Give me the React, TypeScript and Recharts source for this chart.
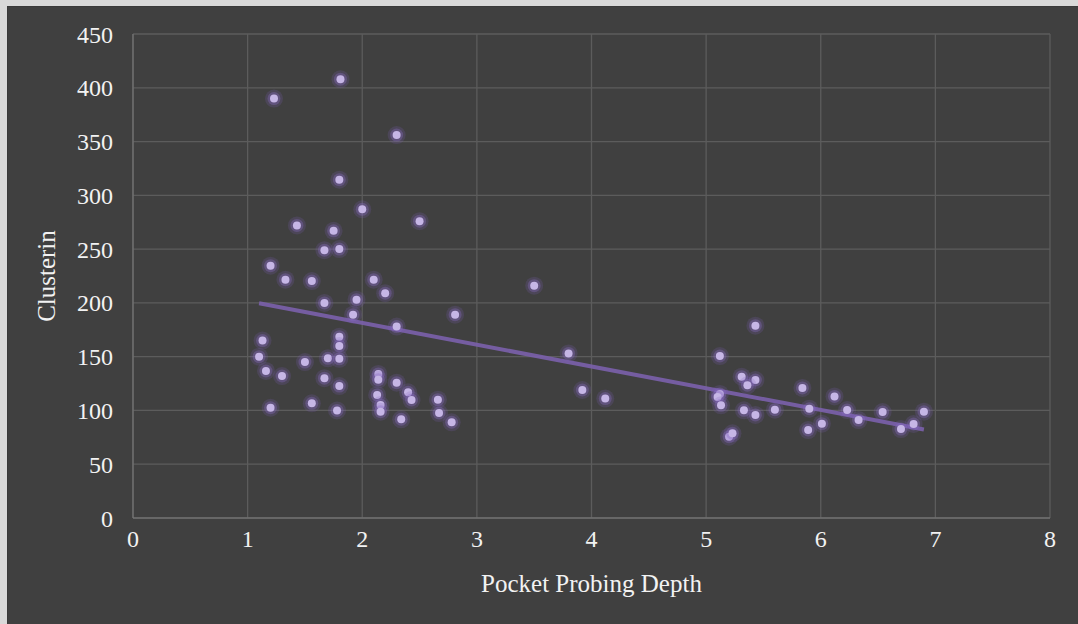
import React from 'react';
import { ScatterChart, Scatter, XAxis, YAxis, CartesianGrid } from 'recharts';

const depthValues = [
  1.81, 1.23, 2.30, 1.80, 2.00, 1.43, 2.50, 1.75, 1.67, 1.80, 1.20,
  1.33, 1.56, 2.10, 2.20, 1.67, 1.95, 1.92, 2.81, 2.30, 1.13, 1.80, 1.80,
  1.10, 1.50, 1.70, 1.80, 1.16, 1.30, 1.67, 1.80, 2.14, 2.14, 2.30, 2.40,
  2.43, 2.13, 2.16, 2.16, 2.66, 2.67, 2.78, 2.34, 1.20, 1.56, 1.78,
  3.50, 3.80, 3.92, 4.12,
  5.43, 5.12, 5.31, 5.43, 5.36, 5.84, 5.12, 5.10, 5.13, 5.33, 5.43, 5.60,
  5.90, 6.12, 6.23, 6.33, 6.54, 6.01, 5.89, 5.20, 5.23, 6.70, 6.81, 6.90,
];
const clusterinValues = [
  408, 390, 356, 314.5, 287, 272, 276, 267, 249, 250, 234.6,
  221.6, 220.3, 221.6, 209, 200, 203, 189, 189, 178, 165, 168.6, 160,
  150, 145, 148.5, 148, 136.7, 132, 130, 122.7, 134, 128.6, 125.8, 116.9,
  109.7, 114.4, 105, 98.8, 110, 97.6, 89, 91.8, 102.5, 106.6, 100,
  216, 153, 119, 111,
  178.8, 150.6, 131.4, 128.3, 123.4, 120.9, 115.3, 112.5, 104.8, 100.1, 95.8, 100.7,
  101.6, 113, 100.4, 91, 98.5, 87.7, 81.8, 75.6, 78.7, 82.7, 87.4, 98.8,
];
const trendX = [1.1, 6.9];
const trendY = [199.6, 82.2];
const xTicks = [0, 1, 2, 3, 4, 5, 6, 7, 8];
const yTicks = [0, 50, 100, 150, 200, 250, 300, 350, 400, 450];

const points = depthValues.map((x, i) => ({ x, y: clusterinValues[i] }));
const trend = trendX.map((x, i) => ({ x, y: trendY[i] }));

const FONT = '"Liberation Serif", "Times New Roman", serif';
const TEXT = '#f2f2f2';
const FS = 24;

const Dot = (props: any) => {
  const { cx, cy } = props;
  if (cx == null || cy == null) return <g />;
  return (
    <g>
      <circle cx={cx} cy={cy} r={9} fill="#7e5fb8" fillOpacity={0.2} />
      <circle cx={cx} cy={cy} r={6.5} fill="#8a6cc4" fillOpacity={0.35} />
      <circle cx={cx} cy={cy} r={4} fill="#c6b6e6" />
    </g>
  );
};

export default function App() {
  return (
    <div style={{ position: 'fixed', left: 0, top: 0, width: 1078, height: 624, background: '#d9d9d9' }}>
      <div style={{ position: 'absolute', left: 7, top: 6, width: 1071, height: 618, background: '#404040', boxSizing: 'border-box', borderLeft: '1px solid #3a3a3a', borderTop: '1px solid #3a3a3a' }} />
      <div style={{ position: 'absolute', left: 0, top: 0 }}>
        <ScatterChart width={1078} height={624} margin={{ top: 34, right: 28, bottom: 0, left: 0 }}>
          <CartesianGrid stroke="#5c5c5c" strokeWidth={1.3} />
          <XAxis
            type="number"
            dataKey="x"
            domain={[0, 8]}
            ticks={xTicks}
            allowDataOverflow
            height={106}
            stroke="#7a7a7a"
            tickLine={false}
            tickSize={0}
            tickMargin={12}
            tick={{ fill: TEXT, fontFamily: FONT, fontSize: FS }}
            label={{ value: 'Pocket Probing Depth', position: 'insideBottom', offset: 32, fill: TEXT, fontFamily: FONT, fontSize: 25 }}
          />
          <YAxis
            type="number"
            dataKey="y"
            domain={[0, 450]}
            ticks={yTicks}
            allowDataOverflow
            width={133}
            stroke="#7a7a7a"
            tickLine={false}
            tickSize={0}
            tickMargin={20}
            tick={{ fill: TEXT, fontFamily: FONT, fontSize: FS }}
            label={{ value: 'Clusterin', angle: -90, position: 'insideLeft', offset: 46, fill: TEXT, fontFamily: FONT, fontSize: 25, style: { textAnchor: 'middle' } }}
          />
          <Scatter data={trend} line={{ stroke: '#7b60ac', strokeWidth: 4, strokeOpacity: 0.9 }} shape={() => <g />} isAnimationActive={false} />
          <Scatter data={points} shape={Dot} isAnimationActive={false} />
        </ScatterChart>
      </div>
    </div>
  );
}
